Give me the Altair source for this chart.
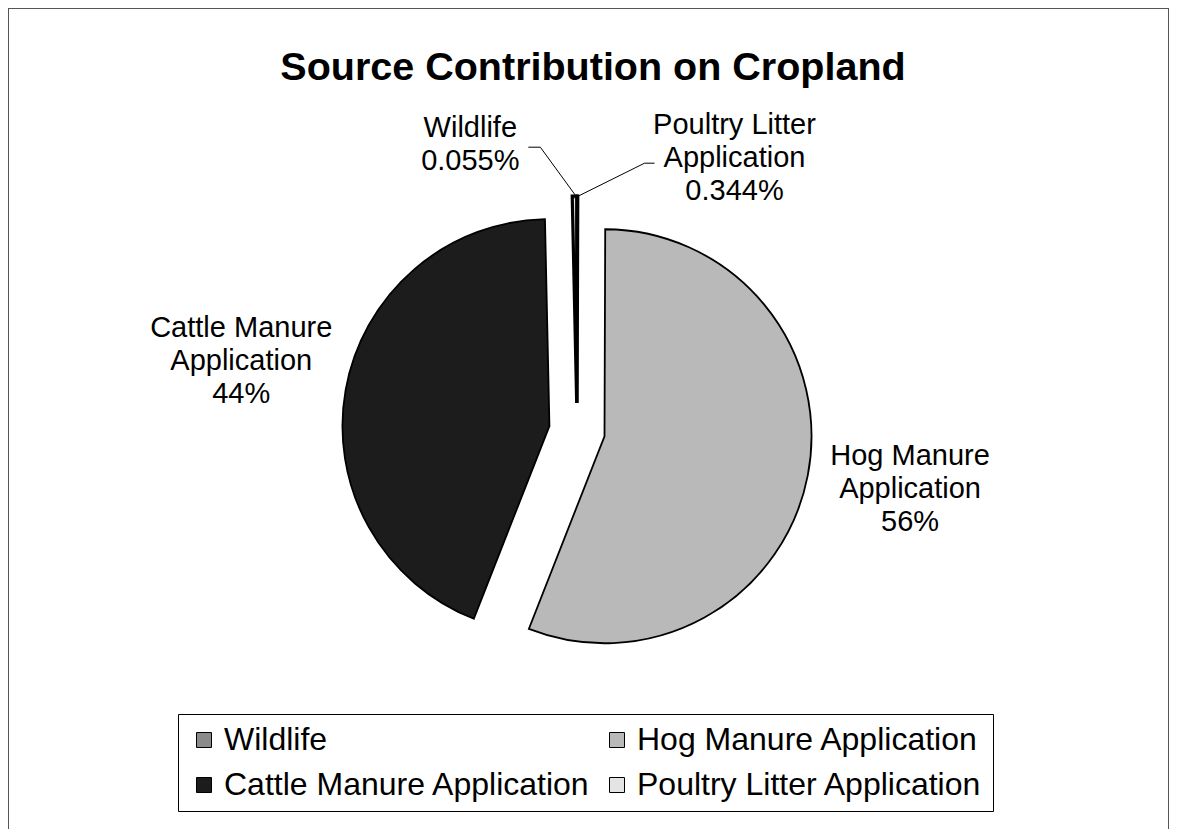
import math
import altair as alt
import pandas as pd

# ---------------- data ----------------
categories = ["Wildlife", "Hog Manure Application", "Cattle Manure Application", "Poultry Litter Application"]
shares = [0.055, 55.9, 43.701, 0.344]
pct_labels = ["0.055%", "56%", "44%", "0.344%"]
name_labels = ["Wildlife", "Hog Manure\nApplication", "Cattle Manure\nApplication", "Poultry Litter\nApplication"]

# ---------------- style / layout ----------------
colors = ["#8a8a8a", "#b9b9b9", "#1c1c1c", "#e4e4e4"]
W, H = 1161, 821
CX, CY = 569, 423          # pie centre (before explosion)
R = 207                    # pie radius
EXPLODE = 28               # explosion distance
FONT = "Liberation Sans"
LH = 33                    # label line height
# label placement (angle in degrees clockwise from top, radius)
label_place = {"Wildlife": (339.6, 306), "Poultry Litter Application": (30.0, 315),
               "Cattle Manure Application": (281.8, 343), "Hog Manure Application": (99.8, 338)}
LABEL_R = 338
# leader lines: (start dx, start dy, elbow dx, elbow dy) relative to the label centre
leader_off = {"Wildlife": (58, 3, 70, 3), "Poultry Litter Application": (-80, 5, -90, 5)}

total = sum(shares)
rows = []
cum = 0.0
for cat, v, pl, nl in zip(categories, shares, pct_labels, name_labels):
    start, end = cum, cum + v
    cum = end
    mid = (start + end) / 2 / total * 2 * math.pi
    cx = CX + EXPLODE * math.sin(mid)
    cy = CY - EXPLODE * math.cos(mid)
    if cat in label_place:
        a, r = label_place[cat]
        a = math.radians(a)
    else:
        a, r = mid, LABEL_R
    text = nl + "\n" + pl
    nlines = text.count("\n") + 1
    lx, ly = CX + r * math.sin(a), CY - r * math.cos(a)
    rows.append(dict(cat=cat, value=v, start=start, end=end, cx=cx, cy=cy,
                     lx=lx, ly=ly, ly_text=ly - (nlines - 1) * LH / 2,
                     label=text,
                     tipx=cx + (R - 2) * math.sin(mid), tipy=cy - (R - 2) * math.cos(mid)))
df = pd.DataFrame(rows)

lead = []
for _, row in df.iterrows():
    if row["cat"] in leader_off:
        sx, sy, ex, ey = leader_off[row["cat"]]
        lead.append(dict(cat=row["cat"], i=0, x=row["lx"] + sx, y=row["ly"] + sy))
        lead.append(dict(cat=row["cat"], i=1, x=row["lx"] + ex, y=row["ly"] + ey))
        lead.append(dict(cat=row["cat"], i=2, x=row["tipx"], y=row["tipy"]))
lead_df = pd.DataFrame(lead)

base = alt.Chart(df)

arcs = base.mark_arc(outerRadius=R, stroke="black").encode(
    x=alt.X("cx:Q", scale=None),
    y=alt.Y("cy:Q", scale=None),
    theta=alt.Theta("start:Q", scale=alt.Scale(domain=[0, total], range=[0, 2 * math.pi]), stack=False),
    theta2="end:Q",
    strokeWidth=alt.condition("datum.value < 1", alt.value(3.2), alt.value(1.8)),
    color=alt.Color(
        "cat:N",
        scale=alt.Scale(domain=categories, range=colors),
        sort=categories,
        legend=alt.Legend(
            title=None, orient="none", legendX=170, legendY=706, columns=2,
            direction="horizontal", symbolType="square", symbolSize=225,
            symbolStrokeColor="black", symbolStrokeWidth=1, labelFontSize=32,
            labelFont=FONT, labelColor="black", labelLimit=600, labelOffset=4,
            columnPadding=10, rowPadding=13, padding=10, strokeColor="black",
            fillColor="white",
        ),
    ),
)

labels = base.mark_text(font=FONT, fontSize=29, lineBreak="\n", lineHeight=LH,
                        align="center", baseline="middle", color="black").encode(
    x=alt.X("lx:Q", scale=None), y=alt.Y("ly_text:Q", scale=None), text="label:N")

leaders = alt.Chart(lead_df).mark_line(color="black", strokeWidth=1).encode(
    x=alt.X("x:Q", scale=None), y=alt.Y("y:Q", scale=None), detail="cat:N", order="i:Q")

one = alt.Chart(pd.DataFrame({"k": [0]}))
title = one.mark_text(font=FONT, fontSize=39.5, fontWeight="bold", align="center",
                      baseline="alphabetic", color="black").encode(
    x=alt.value(585), y=alt.value(72), text=alt.value("Source Contribution on Cropland"))

border_top = one.mark_rule(color="#555", strokeWidth=1).encode(
    x=alt.value(0), x2=alt.value(W), y=alt.value(0.5))
border_left = one.mark_rule(color="#555", strokeWidth=1).encode(
    x=alt.value(0.5), y=alt.value(0), y2=alt.value(H))
border_right = one.mark_rule(color="#555", strokeWidth=1).encode(
    x=alt.value(W - 0.5), y=alt.value(0), y2=alt.value(H))

chart = alt.layer(border_top, border_left, border_right, arcs, leaders, labels, title).properties(
    width=W, height=H, padding=0, autosize="none", background="white"
).configure_view(stroke="transparent")

chart.save("out.html", embed_options={"renderer": "svg", "actions": False})
